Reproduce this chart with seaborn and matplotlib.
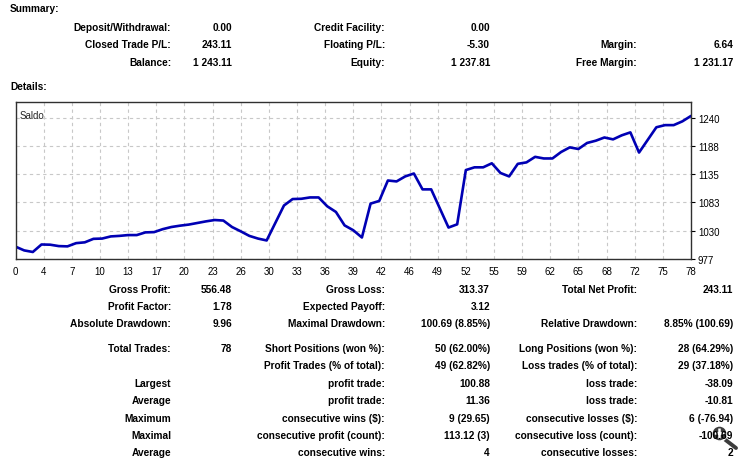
import matplotlib
matplotlib.use("Agg")
import matplotlib.pyplot as plt
import seaborn as sns
import numpy as np
import pandas as pd

# === Data ===
balance = [1000, 993, 990.04, 1004, 1003.6, 1001, 1000.5, 1006.5, 1008, 1014.5,
           1015, 1019, 1020, 1021.5, 1021.5, 1026.5, 1027, 1032.5, 1036.5, 1039,
           1041, 1044, 1047, 1049.5, 1048.5, 1036.5, 1028.5, 1020, 1015, 1011.5,
           1044, 1076.5, 1088.5, 1089, 1091.5, 1091.5, 1075, 1064.5, 1039.5, 1030.5,
           1017, 1080, 1085, 1123, 1121.3, 1130.6, 1136, 1106.5, 1106.5, 1071,
           1035.5, 1041.5, 1142.4, 1147.5, 1147.5, 1155, 1137, 1130.6, 1154, 1156.7,
           1167, 1164, 1164, 1176, 1184.6, 1181.6, 1192.8, 1197, 1203, 1199.5,
           1207, 1212.5, 1175, 1198.5, 1222, 1226, 1226, 1233, 1243.11]
x_labels = ["0", "4", "7", "10", "13", "17", "20", "23", "26", "30", "33", "36", "39",
            "42", "46", "49", "52", "55", "59", "62", "65", "68", "72", "75", "78"]
y_labels = ["977", "1030", "1083", "1135", "1188", "1240"]

summary_rows = [
    ["Deposit/Withdrawal:", "0.00", "Credit Facility:", "0.00", "", ""],
    ["Closed Trade P/L:", "243.11", "Floating P/L:", "-5.30", "Margin:", "6.64"],
    ["Balance:", "1 243.11", "Equity:", "1 237.81", "Free Margin:", "1 231.17"],
]
detail_rows = [
    ["Gross Profit:", "556.48", "Gross Loss:", "313.37", "Total Net Profit:", "243.11"],
    ["Profit Factor:", "1.78", "Expected Payoff:", "3.12", "", ""],
    ["Absolute Drawdown:", "9.96", "Maximal Drawdown:", "100.69 (8.85%)", "Relative Drawdown:", "8.85% (100.69)"],
    ["Total Trades:", "78", "Short Positions (won %):", "50 (62.00%)", "Long Positions (won %):", "28 (64.29%)"],
    ["", "", "Profit Trades (% of total):", "49 (62.82%)", "Loss trades (% of total):", "29 (37.18%)"],
    ["Largest", "", "profit trade:", "100.88", "loss trade:", "-38.09"],
    ["Average", "", "profit trade:", "11.36", "loss trade:", "-10.81"],
    ["Maximum", "", "consecutive wins ($):", "9 (29.65)", "consecutive losses ($):", "6 (-76.94)"],
    ["Maximal", "", "consecutive profit (count):", "113.12 (3)", "consecutive loss (count):", "-100.69"],
    ["Average", "", "consecutive wins:", "4", "consecutive losses:", "2"],
]

# === Layout (pixels) ===
W, H = 750, 464
col_right = [171, 232, 385, 490, 637, 733]
summary_y = [28, 45, 63]
detail_y = [290, 307, 324, 349, 366, 384, 401, 419, 436, 453]

sns.set_style("white")
plt.rcParams["font.family"] = ["Liberation Sans Narrow", "Liberation Sans", "DejaVu Sans"]

fig = plt.figure(figsize=(W / 100, H / 100), dpi=100)


def put(x, y, s, ha="right", bold=True, size=7.3):
    fig.text(x / W, 1 - y / H, s, ha=ha, va="center", fontsize=size,
             fontweight="bold" if bold else "normal", color="black")


put(10, 9, "Summary:", ha="left")
for y, row in zip(summary_y, summary_rows):
    for x, s in zip(col_right, row):
        if s:
            put(x, y, s)
put(10, 87, "Details:", ha="left")
for y, row in zip(detail_y, detail_rows):
    for x, s in zip(col_right, row):
        if s:
            put(x, y, s)

# === Balance curve ===
ax = fig.add_axes([15.5 / W, 1 - 260 / H, 675.5 / W, 157 / H])
df = pd.DataFrame({"trade": np.arange(len(balance)), "balance": balance})
sns.lineplot(data=df, x="trade", y="balance", ax=ax, color="#0000b4", linewidth=1.9)

ax.set_xlim(0, len(balance) - 1)
ax.set_ylim(977, 1269)
ax.set_xticks(np.linspace(0, len(balance) - 1, len(x_labels)))
ax.set_xticklabels(x_labels)
ax.set_yticks([float(v) for v in y_labels])
ax.set_yticklabels(y_labels)
ax.yaxis.tick_right()
ax.tick_params(axis="both", labelsize=7, length=3, width=0.8, pad=2, colors="black")
ax.grid(True, color="#c8c8c8", linestyle=(0, (3, 3)), linewidth=0.8)
ax.set_xlabel("")
ax.set_ylabel("")
for sp in ax.spines.values():
    sp.set_color("#303030")
    sp.set_linewidth(1)
ax.text(0.006, 0.95, "Saldo", transform=ax.transAxes, ha="left", va="top", fontsize=7)

# zoom icon overlay in the bottom right corner
icon = fig.add_axes([706 / W, 1 - 456 / H, 34 / W, 34 / H])
icon.set_xlim(0, 34)
icon.set_ylim(34, 0)
icon.axis("off")
icon.plot([17, 30], [17, 27], color="#3c3c3c", linewidth=2.8, solid_capstyle="round")
icon.plot([13], [12], marker="o", markersize=11, markerfacecolor="#3c3c3c",
          markeredgecolor="white", markeredgewidth=1.2)
icon.plot([13], [12], marker="+", markersize=7, color="white", markeredgewidth=1.8)

fig.savefig("out.png", dpi=100)
